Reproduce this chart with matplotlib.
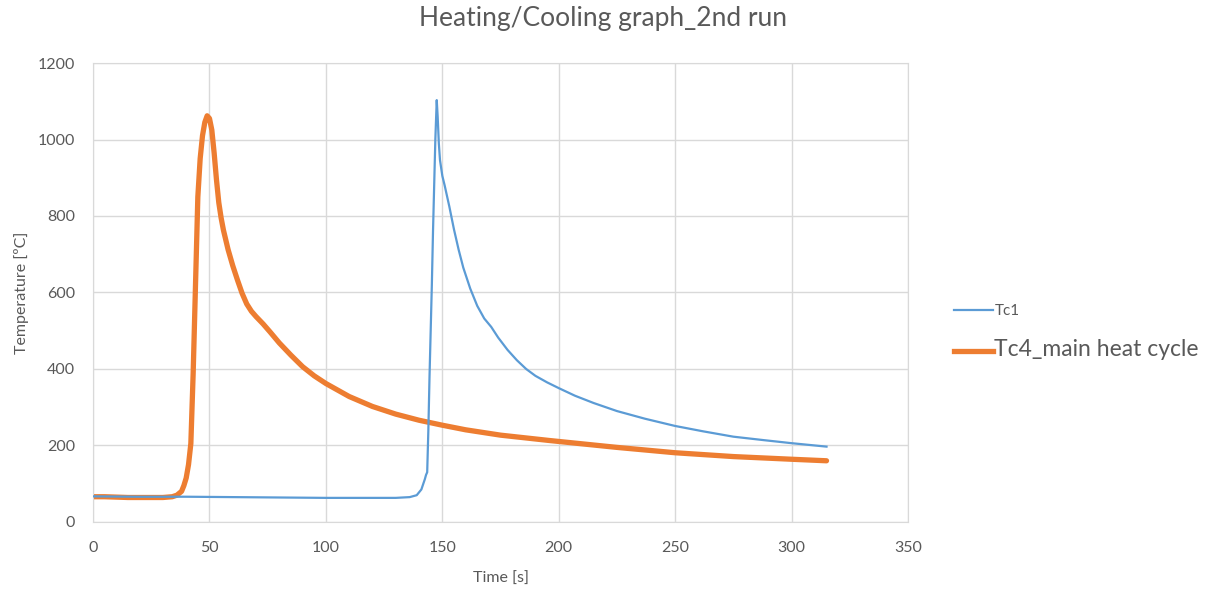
import matplotlib.pyplot as plt
from matplotlib.lines import Line2D

# Tc4 - main heat cycle (orange)
tc4_time = [0, 5, 10, 15, 20, 25, 30, 34, 36, 38, 39, 40, 41, 42, 43, 44, 45,
            46, 47, 48, 49, 50, 51, 52, 53, 54, 55, 56, 58, 60, 62, 64, 66, 68,
            70, 73, 76, 80, 85, 90, 95, 100, 110, 120, 130, 140, 150, 160, 175,
            196, 225, 250, 275, 300, 315]
tc4_temp = [66, 66, 65, 64, 64, 64, 64, 66, 70, 80, 95, 115, 150, 205, 390,
            620, 850, 950, 1010, 1045, 1062, 1055, 1025, 965, 895, 835, 795,
            763, 712, 670, 633, 598, 570, 551, 537, 518, 497, 468, 436, 406,
            382, 362, 328, 302, 282, 266, 253, 241, 227, 213, 195, 181, 171,
            164, 160]

# Tc1 (blue)
tc1_time = [0, 20, 40, 60, 80, 100, 120, 130, 136, 139, 141, 142.5, 143, 143.5,
            144, 144.5, 145, 145.5, 146, 146.5, 147, 147.6, 148, 148.5, 149,
            150, 151, 153, 155, 157, 159, 162, 165, 168, 171, 174, 178, 182,
            186, 190, 195, 200, 207, 215, 225, 237, 250, 262, 275, 288, 300,
            315]
tc1_temp = [67, 66, 66, 65, 64, 63, 63, 63, 65, 70, 85, 112, 123, 130, 240,
            380, 500, 620, 760, 880, 1000, 1103, 1060, 990, 946, 905, 880, 825,
            765, 712, 665, 610, 565, 532, 510, 482, 450, 423, 400, 382, 365,
            350, 330, 311, 290, 270, 251, 237, 223, 214, 206, 197]

BLUE = '#5B9BD5'
ORANGE = '#ED7D31'
GRAY = '#595959'

plt.rcParams['font.family'] = ['Lato', 'DejaVu Sans']

fig = plt.figure(figsize=(12.18, 5.90), dpi=100)
ax = fig.add_axes([0.0764, 0.1153, 0.6691, 0.7779])

ax.plot(tc1_time, tc1_temp, color=BLUE, lw=1.6, zorder=3)
ax.plot(tc4_time, tc4_temp, color=ORANGE, lw=3.8, solid_capstyle='round',
        solid_joinstyle='round', zorder=2)

ax.set_xlim(0, 350)
ax.set_ylim(0, 1200)
ax.set_xticks(range(0, 351, 50))
ax.set_yticks(range(0, 1201, 200))
ax.grid(True, color='#D9D9D9', lw=1)
ax.set_axisbelow(True)
for s in ax.spines.values():
    s.set_color('#D9D9D9')
ax.tick_params(length=0, colors=GRAY, labelsize=11.5)
ax.tick_params(axis='y', pad=13)
ax.tick_params(axis='x', pad=14)

ax.set_xlabel('Time [s]', color=GRAY, fontsize=11.5, labelpad=12)
ax.set_ylabel('Temperature [ºC]', color=GRAY, fontsize=11.5, labelpad=6)
fig.suptitle('Heating/Cooling graph_2nd run', color=GRAY, fontsize=19,
             x=0.495, y=0.99)

handles = [Line2D([], [], color=BLUE, lw=1.6),
           Line2D([], [], color=ORANGE, lw=3.8)]
leg = fig.legend(handles, ['Tc1', 'Tc4_main heat cycle'],
                 loc='center left', bbox_to_anchor=(0.773, 0.437),
                 frameon=False, handlelength=2.8, handletextpad=0.1,
                 labelspacing=1.5)
leg.get_texts()[0].set_fontsize(11)
leg.get_texts()[1].set_fontsize(16.5)
for t in leg.get_texts():
    t.set_color(GRAY)

fig.savefig('out.png', dpi=100)
